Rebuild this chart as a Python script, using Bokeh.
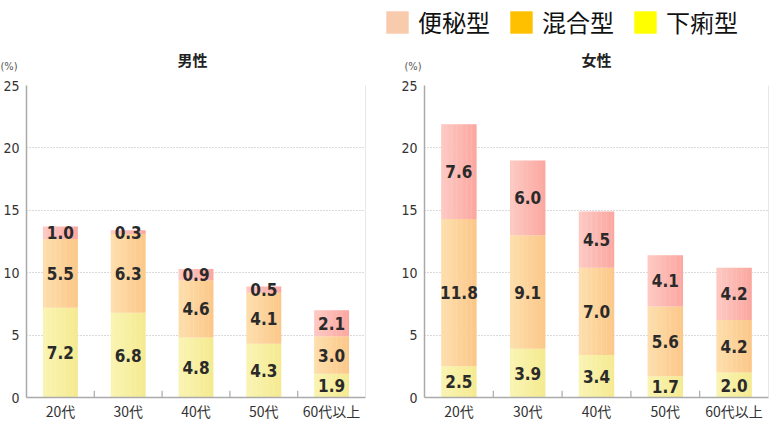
from bokeh.plotting import figure
from bokeh.layouts import row, column
from bokeh.models import (ColumnDataSource, Span, Legend, LegendItem, Label,
                          FactorRange, Range1d, FixedTicker)
from bokeh.transform import dodge
from bokeh.core.properties import value
from bokeh.embed import file_html
from bokeh.resources import INLINE

# ---- data ----
categories = ["20代", "30代", "40代", "50代", "60代以上"]
male_diarrhea = [7.2, 6.8, 4.8, 4.3, 1.9]
male_mixed = [5.5, 6.3, 4.6, 4.1, 3.0]
male_constipation = [1.0, 0.3, 0.9, 0.5, 2.1]
female_diarrhea = [2.5, 3.9, 3.4, 1.7, 2.0]
female_mixed = [11.8, 9.1, 7.0, 5.6, 4.2]
female_constipation = [7.6, 6.0, 4.5, 4.1, 4.2]
y_ticks = [0, 5, 10, 15, 20, 25]
series_names = ["便秘型", "混合型", "下痢型"]
legend_colors = ["#F8CBAD", "#FFC000", "#FFFF00"]
chart_titles = ["男性", "女性"]

# ---- styles ----
NUM_FONT = "'DejaVu Sans Condensed', 'Noto Sans CJK JP'"
JP_FONT = "Noto Sans CJK JP"
GRAD = [((249, 244, 178), (245, 234, 145)),   # diarrhea (yellow)
        ((253, 222, 172), (252, 200, 138)),   # mixed (orange)
        ((253, 201, 195), (251, 168, 161))]   # constipation (pink)
BAR_W = 0.51
N_STRIPS = 14
HEADER_H = 75


def hexcol(c):
    return "#%02x%02x%02x" % tuple(int(round(v)) for v in c)


def make_chart(diarrhea, mixed, constip, width, left, right):
    stacks = [diarrhea, mixed, constip]
    bottoms, tops = [], []
    acc = [0.0] * len(categories)
    for s in stacks:
        bottoms.append(list(acc))
        acc = [a + v for a, v in zip(acc, s)]
        tops.append(list(acc))
    data = dict(cat=categories)
    for i, s in enumerate(stacks):
        data[f"b{i}"] = bottoms[i]
        data[f"t{i}"] = tops[i]
        data[f"m{i}"] = [(b + t) / 2 for b, t in zip(bottoms[i], tops[i])]
        data[f"l{i}"] = [f"{v:.1f}" for v in s]
    src = ColumnDataSource(data)

    p = figure(x_range=FactorRange(*categories), y_range=Range1d(0, 25),
               width=width, height=423 - HEADER_H, output_backend="svg",
               toolbar_location=None,
               min_border_left=left, min_border_right=right,
               min_border_top=10, min_border_bottom=26)
    p.outline_line_color = None
    p.xgrid.visible = False
    p.ygrid.grid_line_color = "#b4b4b4"
    p.ygrid.grid_line_dash = "1 2"
    p.yaxis.ticker = FixedTicker(ticks=y_ticks)
    for ax in (p.xaxis, p.yaxis):
        ax.axis_line_color = "#aaaaaa"
        ax.axis_line_width = 1.5
        ax.major_tick_line_color = None
        ax.minor_tick_line_color = None
        ax.major_tick_out = 0
        ax.major_tick_in = 0
        ax.minor_tick_out = 0
        ax.major_label_text_color = "#333333"
    p.yaxis.major_label_standoff = 7
    p.yaxis.major_label_text_font = NUM_FONT
    p.yaxis.major_label_text_font_size = "14px"
    p.xaxis.major_label_standoff = 3
    p.xaxis.major_label_text_font = JP_FONT
    p.xaxis.major_label_text_font_size = "14px"
    p.xaxis.major_label_text_line_height = 1.0

    # right frame border
    p.add_layout(Span(location=len(categories), dimension="height",
                      line_color="#d0d0d0", line_width=1))
    # category boundary ticks
    bounds = list(range(1, len(categories)))
    p.segment(x0=bounds, y0=[0] * len(bounds), x1=bounds, y1=[0.55] * len(bounds),
              line_color="#aaaaaa", line_width=1.2)

    # gradient bars built from thin strips
    sw = BAR_W / N_STRIPS
    for i in range(3):
        c0, c1 = GRAD[i]
        for k in range(N_STRIPS):
            f = k / (N_STRIPS - 1)
            col = hexcol([a + (b - a) * f for a, b in zip(c0, c1)])
            off = -BAR_W / 2 + (k + 0.5) * sw
            p.vbar(x=dodge("cat", off, range=p.x_range), width=sw * 1.15,
                   bottom=f"b{i}", top=f"t{i}", source=src,
                   fill_color=col, line_color=None)
    for i in range(3):
        p.text(x="cat", y=f"m{i}", text=f"l{i}", source=src,
               text_align="center", text_baseline="middle",
               text_font=value(NUM_FONT), text_font_size="17px",
               text_font_style="bold", text_color="#2a2a2a")
    return p


# ---- header (legend + titles) ----
h = figure(width=770, height=HEADER_H, x_range=Range1d(0, 770),
           y_range=Range1d(HEADER_H, 0), output_backend="svg",
           toolbar_location=None, min_border=0)
h.axis.visible = False
h.grid.visible = False
h.outline_line_color = None

hsrc = ColumnDataSource(dict(x=[0], y=[0]))
items = []
for name, col in zip(series_names, legend_colors):
    r = h.vbar(x="x", top="y", width=1, source=hsrc,
               fill_color=col, line_color=None, visible=False)
    items.append(LegendItem(label=name, renderers=[r]))
leg = Legend(items=items, orientation="horizontal", location=(383, HEADER_H - 39),
             glyph_width=28, glyph_height=28, label_height=28,
             label_standoff=7, spacing=17, padding=0, margin=0,
             border_line_color=None, background_fill_alpha=0,
             label_text_font=JP_FONT, label_text_font_size="24px",
             label_text_color="#111111")
h.add_layout(leg, "center")

for cx, t in zip([192, 596], chart_titles):
    h.add_layout(Label(x=cx, y=59, text=t, text_font=JP_FONT, text_font_size="15px",
                       text_font_style="bold", text_color="#222222",
                       text_align="center", text_baseline="middle"))
for lx in [0, 404]:
    h.add_layout(Label(x=lx, y=66, text="(%)", text_font=NUM_FONT,
                       text_font_size="11px", text_color="#555555",
                       text_baseline="middle"))

left = make_chart(male_diarrhea, male_mixed, male_constipation, 385, 20, 20)
right = make_chart(female_diarrhea, female_mixed, female_constipation, 385, 39, 2)
layout = column(h, row(left, right), spacing=0)
open("out.html", "w").write(file_html(layout, INLINE))
